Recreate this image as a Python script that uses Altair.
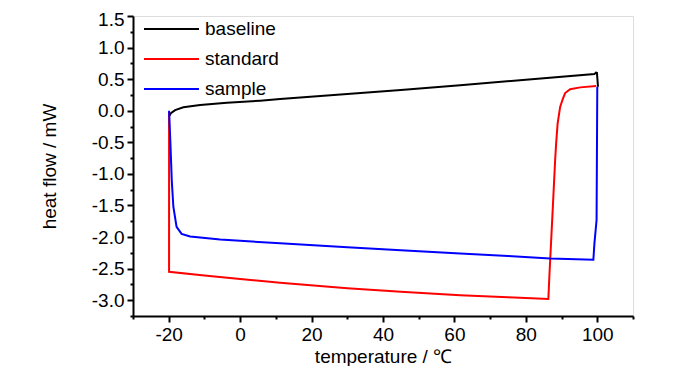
import altair as alt
import pandas as pd

# ---- data ----
baseline_T = [-19.8, -19.4, -18.2, -15.9, -11.2, -3.7, 5.6, 11.2, 30, 45, 61.6, 80, 99.2, 99.6, 99.9, 100.2]
baseline_V = [-0.08, -0.04, 0.01, 0.054, 0.09, 0.127, 0.16, 0.185, 0.265, 0.33, 0.405, 0.49, 0.58, 0.605, 0.60, 0.38]

standard_T = [-19.9, -19.9, -10, 0, 11.2, 30, 45, 61.6, 75, 86.3, 86.6, 87.4, 88.2, 88.5, 88.9,
              89.6, 90.3, 91.0, 92.4, 95.2, 99.7]
standard_V = [-0.02, -2.55, -2.61, -2.665, -2.725, -2.81, -2.865, -2.92, -2.955, -2.98, -2.6, -1.7, -0.78,
              -0.5, -0.2, 0.06, 0.18, 0.28, 0.34, 0.37, 0.39]

sample_T = [-19.9, -19.5, -19.15, -18.7, -17.8, -16.4, -14.0, -5.6, 0, 11.2, 30, 45, 61.6, 75, 86.8,
            98.9, 99.2, 99.8, 100.0]
sample_V = [0.0, -0.55, -1.10, -1.52, -1.84, -1.95, -1.99, -2.04, -2.06, -2.10, -2.16, -2.21, -2.26,
            -2.30, -2.34, -2.36, -2.1, -1.73, 0.38]

series = ["baseline", "standard", "sample"]
colors = ["#000000", "#ff0000", "#0000ff"]

x_ticks = [-30 + 10 * i for i in range(15)]
y_ticks = [-3.25 + 0.25 * i for i in range(20)]

rows = []
for name, T, V in [("baseline", baseline_T, baseline_V),
                   ("standard", standard_T, standard_V),
                   ("sample", sample_T, sample_V)]:
    for i, (t, v) in enumerate(zip(T, V)):
        rows.append({"series": name, "T": t, "V": v, "i": i})
df = pd.DataFrame(rows)

FONT = "Liberation Sans, Arial"

x_axis = alt.Axis(
    values=x_ticks,
    title="temperature / \u2103",
    titleFont=FONT, titleFontSize=19, titleFontWeight="normal", titleColor="black",
    titleX=250, titleY=46, titleBaseline="alphabetic", titleAnchor="middle",
    labelExpr="datum.value % 20 === 0 ? toString(datum.value) : ''",
    labelFont=FONT, labelFontSize=19, labelColor="black", labelPadding=3,
    tickSize={"condition": {"test": "datum.value % 20 === 0", "value": 6}, "value": 3},
    tickWidth=2, tickColor="black", domainWidth=2, domainColor="black",
    grid=False, labelFlush=False, labelOverlap=False,
)
y_axis = alt.Axis(
    values=y_ticks,
    title="heat flow / mW",
    titleFont=FONT, titleFontSize=19, titleFontWeight="normal", titleColor="black",
    titleX=-78, titleY=150, titleBaseline="alphabetic", titleAngle=-90, titleAnchor="middle",
    labelExpr="datum.value % 0.5 === 0 ? replace(format(datum.value, '.1f'), '\u2212', '-') : ''",
    labelFont=FONT, labelFontSize=19, labelColor="black", labelPadding=3,
    labelFlush=True, labelFlushOffset=6,
    tickSize={"condition": {"test": "datum.value % 0.5 === 0", "value": 6}, "value": 3},
    tickWidth=2, tickColor="black", domainWidth=2, domainColor="black",
    grid=False, labelOverlap=False,
)

legend = alt.Legend(
    title=None, orient="none", legendX=10, legendY=-2,
    symbolType="stroke", symbolSize=3025, symbolStrokeWidth=2, clipHeight=30,
    rowPadding=0, padding=0, labelOffset=5,
    labelFont=FONT, labelFontSize=19, labelColor="black", labelLimit=300,
)

chart = alt.Chart(df).mark_line(strokeWidth=2, interpolate="linear").encode(
    x=alt.X("T:Q", scale=alt.Scale(domain=[-30, 110], nice=False, zero=False), axis=x_axis),
    y=alt.Y("V:Q", scale=alt.Scale(domain=[-3.25, 1.5], nice=False, zero=False), axis=y_axis),
    color=alt.Color("series:N", scale=alt.Scale(domain=series, range=colors), sort=series, legend=legend),
    order=alt.Order("i:Q"),
    detail="series:N",
).properties(
    width=500, height=300,
    autosize=alt.AutoSizeParams(type="none"),
    padding={"left": 125, "top": 8, "right": 40, "bottom": 50},
).configure_view(stroke="black", strokeWidth=2).configure(background="white")

chart.save("out.html", embed_options={"renderer": "svg", "actions": False})
